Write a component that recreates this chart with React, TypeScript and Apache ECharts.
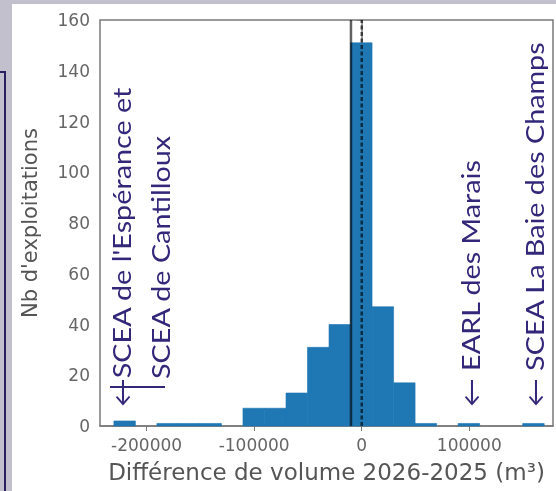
import React, { useEffect, useRef } from "react";
import * as echarts from "echarts";

// Histogram bin edges (m³) and counts per bin
const binEdges = [
  -230400, -210400, -190400, -170400, -150400, -130400, -110400, -90400, -70400,
  -50400, -30400, -10400, 9600, 29600, 49600, 69600, 89600, 109600, 129600,
  149600, 169600,
];
const counts = [2, 0, 1, 1, 1, 0, 7, 7, 13, 31, 40, 151, 47, 17, 1, 0, 1, 0, 0, 1];

// Reference lines
const meanValue = -10000;
const medianValue = 0;

// Axis ticks
const xTickValues = [-200000, -100000, 0, 100000];
const yTickLabels = [0, 20, 40, 60, 80, 100, 120, 140, 160];

// Annotations
const annotationTexts = [
  "←SCEA de l'Espérance et",
  "SCEA de Cantilloux",
  "← EARL des Marais",
  "← SCEA La Baie des Champs",
];

const xTitle = "Différence de volume 2026-2025 (m³)";
const yTitle = "Nb d'exploitations";

export default function App() {
  const ref = useRef<HTMLDivElement>(null);

  useEffect(() => {
    if (!ref.current) return;
    const chart = echarts.init(ref.current, null, { renderer: "svg" });
    const W = 556;
    const H = 491;
    const annColor = "#33277a";
    const annFont = "Lato";
    const annSize = 25;
    const annStretch = 1.15;
    const tickColor = "#666";
    const barColor = "#1f77b4";

    const histData = counts.map((c, i) => [binEdges[i], binEdges[i + 1], c]);

    const annText = (text: string, x: number, y: number) => ({
      type: "text",
      x,
      y,
      rotation: Math.PI / 2,
      scaleX: annStretch,
      z: 50,
      style: {
        text,
        fontSize: annSize,
        fontFamily: annFont,
        fill: annColor,
        align: "left",
        verticalAlign: "middle",
      },
    });

    chart.setOption({
      animation: false,
      graphic: [
        { type: "rect", z: -10, shape: { x: 0, y: 0, width: W, height: H }, style: { fill: "#c3c0cd" } },
        { type: "polyline", z: -9, shape: { points: [[0, 72], [5, 72], [5, H]] }, style: { stroke: "#2b2060", lineWidth: 2, fill: null } },
        { type: "rect", z: -8, shape: { x: 12, y: 4, width: W - 12, height: H - 4 }, style: { fill: "#ffffff" } },
        annText(annotationTexts[0], 121, 407),
        { type: "line", z: 50, shape: { x1: 110, y1: 387, x2: 165, y2: 387 }, style: { stroke: annColor, lineWidth: 1.8 } },
        annText(annotationTexts[1], 160, 379),
        annText(annotationTexts[2], 470, 407),
        annText(annotationTexts[3], 534, 407),
      ],
      grid: {
        left: 100,
        top: 20,
        right: 3,
        bottom: 65,
        show: true,
        backgroundColor: "#ffffff",
        borderColor: "#7a7a7a",
        borderWidth: 1.5,
      },
      xAxis: {
        type: "value",
        min: -243300,
        max: 177800,
        name: xTitle,
        nameLocation: "middle",
        nameGap: 34,
        nameTextStyle: { color: "#555", fontSize: 23, fontFamily: "DejaVu Sans" },
        axisLine: { show: true, onZero: false, lineStyle: { color: "#7a7a7a", width: 1.5 } },
        axisTick: { show: true, length: 5, customValues: xTickValues, lineStyle: { color: "#7a7a7a" } },
        axisLabel: {
          customValues: xTickValues,
          color: tickColor,
          fontSize: 17,
          fontFamily: "DejaVu Sans",
          margin: 10,
          formatter: (v: number) => (v < 0 ? "-" + String(-v) : String(v)),
        },
        splitLine: { show: false },
      },
      yAxis: {
        type: "value",
        min: 0,
        max: 160,
        interval: 20,
        name: yTitle,
        nameLocation: "middle",
        nameGap: 60,
        nameRotate: 90,
        nameTextStyle: { color: "#555", fontSize: 21, fontFamily: "DejaVu Sans" },
        axisLine: { show: true, lineStyle: { color: "#7a7a7a", width: 1.5 } },
        axisTick: { show: true, length: 5, lineStyle: { color: "#7a7a7a" } },
        axisLabel: {
          color: tickColor,
          fontSize: 17,
          fontFamily: "DejaVu Sans",
          margin: 10,
          formatter: (v: number) => (yTickLabels.includes(v) ? String(v) : ""),
        },
        splitLine: { show: false },
      },
      series: [
        {
          type: "custom",
          data: histData,
          encode: { x: [0, 1], y: 2 },
          z: 2,
          renderItem: (params: any, api: any) => {
            const x0 = api.value(0);
            const x1 = api.value(1);
            const c = api.value(2);
            if (!c) return { type: "group", children: [] };
            const p0 = api.coord([x0, c]);
            const p1 = api.coord([x1, 0]);
            return {
              type: "rect",
              shape: { x: p0[0], y: p0[1], width: p1[0] - p0[0], height: p1[1] - p0[1] },
              style: { fill: barColor, stroke: barColor, lineWidth: 0.6 },
            };
          },
        },
        {
          type: "line",
          data: [[meanValue, 0], [meanValue, 160]],
          symbol: "none",
          z: 5,
          lineStyle: { color: "rgba(0,0,0,0.62)", width: 2.5 },
        },
        {
          type: "line",
          data: [[medianValue, 0], [medianValue, 160]],
          symbol: "none",
          z: 5,
          lineStyle: { color: "rgba(0,0,0,0.62)", width: 2.5, type: [4, 2.5] },
        },
      ],
    });
    return () => chart.dispose();
  }, []);

  return (
    <div
      ref={ref}
      style={{ position: "fixed", left: 0, top: 0, width: 556, height: 491 }}
    />
  );
}
